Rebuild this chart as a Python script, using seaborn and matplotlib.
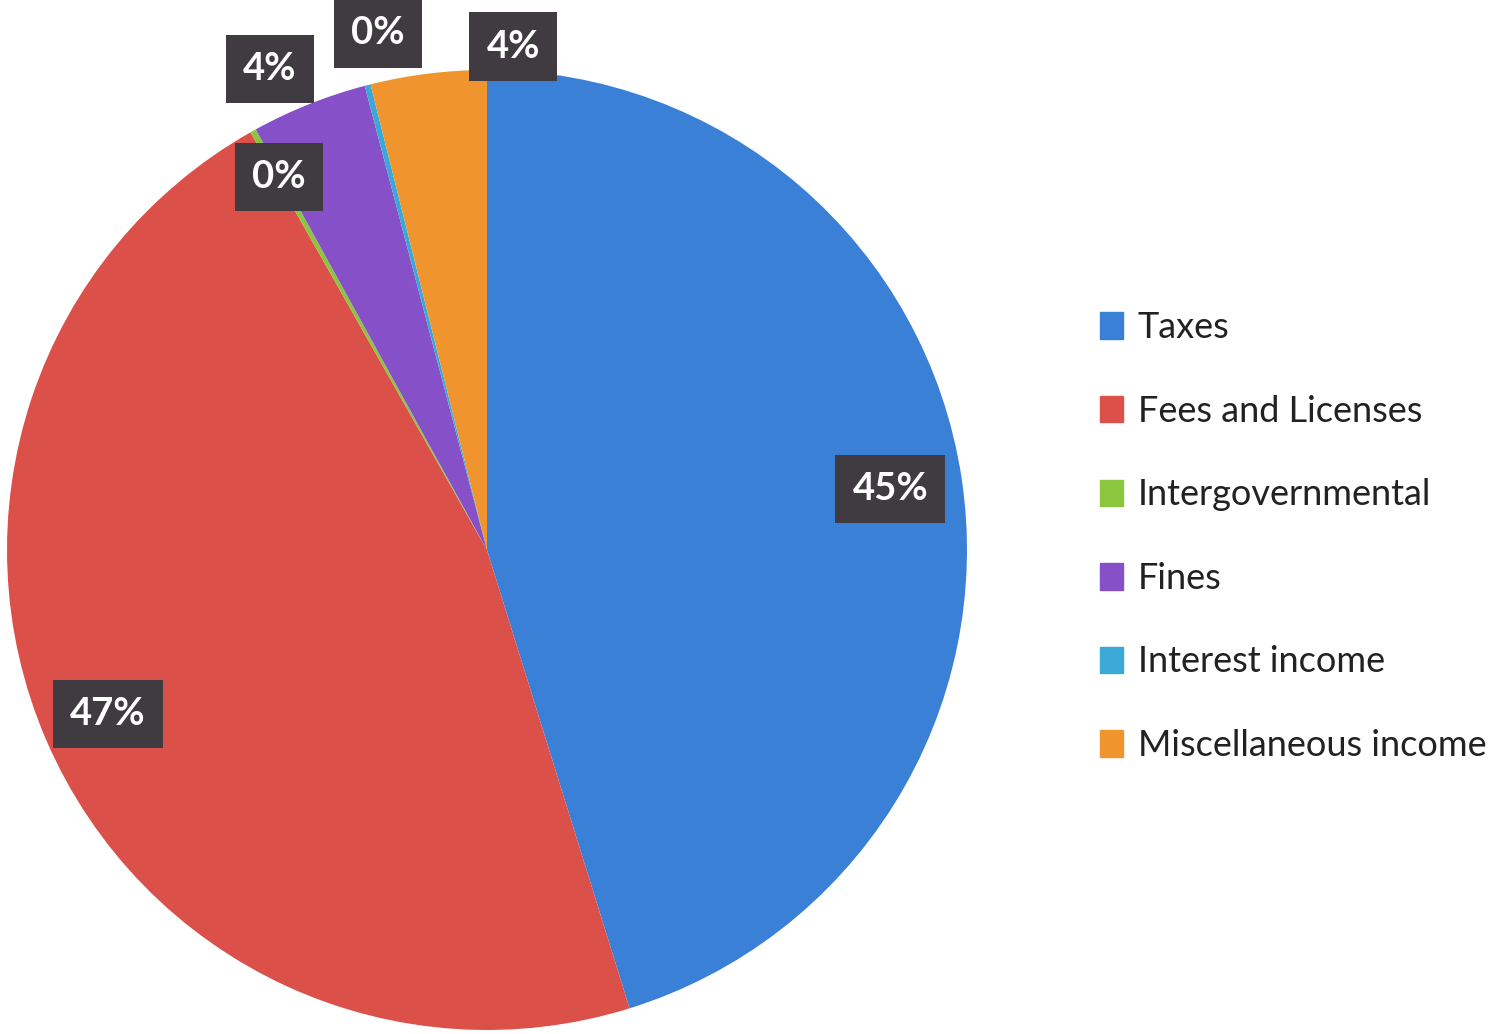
import matplotlib
matplotlib.use("Agg")
import matplotlib.pyplot as plt
import matplotlib.patches as mpatches
import numpy as np
import seaborn as sns

# revenue shares (percent)
categories = ["Taxes", "Fees and Licenses", "Intergovernmental", "Fines",
              "Interest income", "Miscellaneous income"]
shares = [45.2, 46.6, 0.2, 3.9, 0.2, 3.9]
colors = ["#3A80D6", "#DB5049", "#8CC63F", "#8650C8", "#3BA9D8", "#F0952E"]

# label placement: radius factor and angle nudge (deg) per wedge
label_r = [0.85, 0.86, 0.89, 1.10, 1.10, 1.05]
label_nudge = [0, 0, 0, 2.5, -2.5, -10]

sns.set_theme(style="white")
plt.rcParams["font.family"] = ["Lato", "DejaVu Sans"]

fig = plt.figure(figsize=(14.96, 10.34), dpi=100)
fig.patch.set_facecolor("white")
ax = fig.add_axes([7 / 1496, 4 / 1034, 960 / 1496, 960 / 1034])

wedges, _ = ax.pie(shares, colors=colors, startangle=90, counterclock=False,
                   wedgeprops=dict(linewidth=0))
ax.set_xlim(-1, 1)
ax.set_ylim(-1, 1)
ax.set_aspect("equal")
ax.axis("off")

total = sum(shares)
cum = 0
for i, s in enumerate(shares):
    mid = 90 - (cum + s / 2) / total * 360 + label_nudge[i]
    cum += s
    x = label_r[i] * np.cos(np.radians(mid))
    y = label_r[i] * np.sin(np.radians(mid))
    ax.text(x, y, f"{round(s / total * 100):.0f}%", ha="center", va="center",
            color="white", fontsize=27.5, fontweight="bold", clip_on=False,
            bbox=dict(boxstyle="square,pad=0.45", fc="#3F3B40", ec="none"),
            zorder=5)

handles = [mpatches.Patch(color=c, label=n) for c, n in zip(colors, categories)]
fig.legend(handles=handles, loc="center left", bbox_to_anchor=(1100 / 1496, 0.481),
           frameon=False, borderpad=0, borderaxespad=0, fontsize=26,
           handlelength=0.65, handleheight=0.75, handletextpad=0.4,
           labelspacing=1.4, labelcolor="#222222")

fig.savefig("out.png", dpi=100, facecolor="white")
